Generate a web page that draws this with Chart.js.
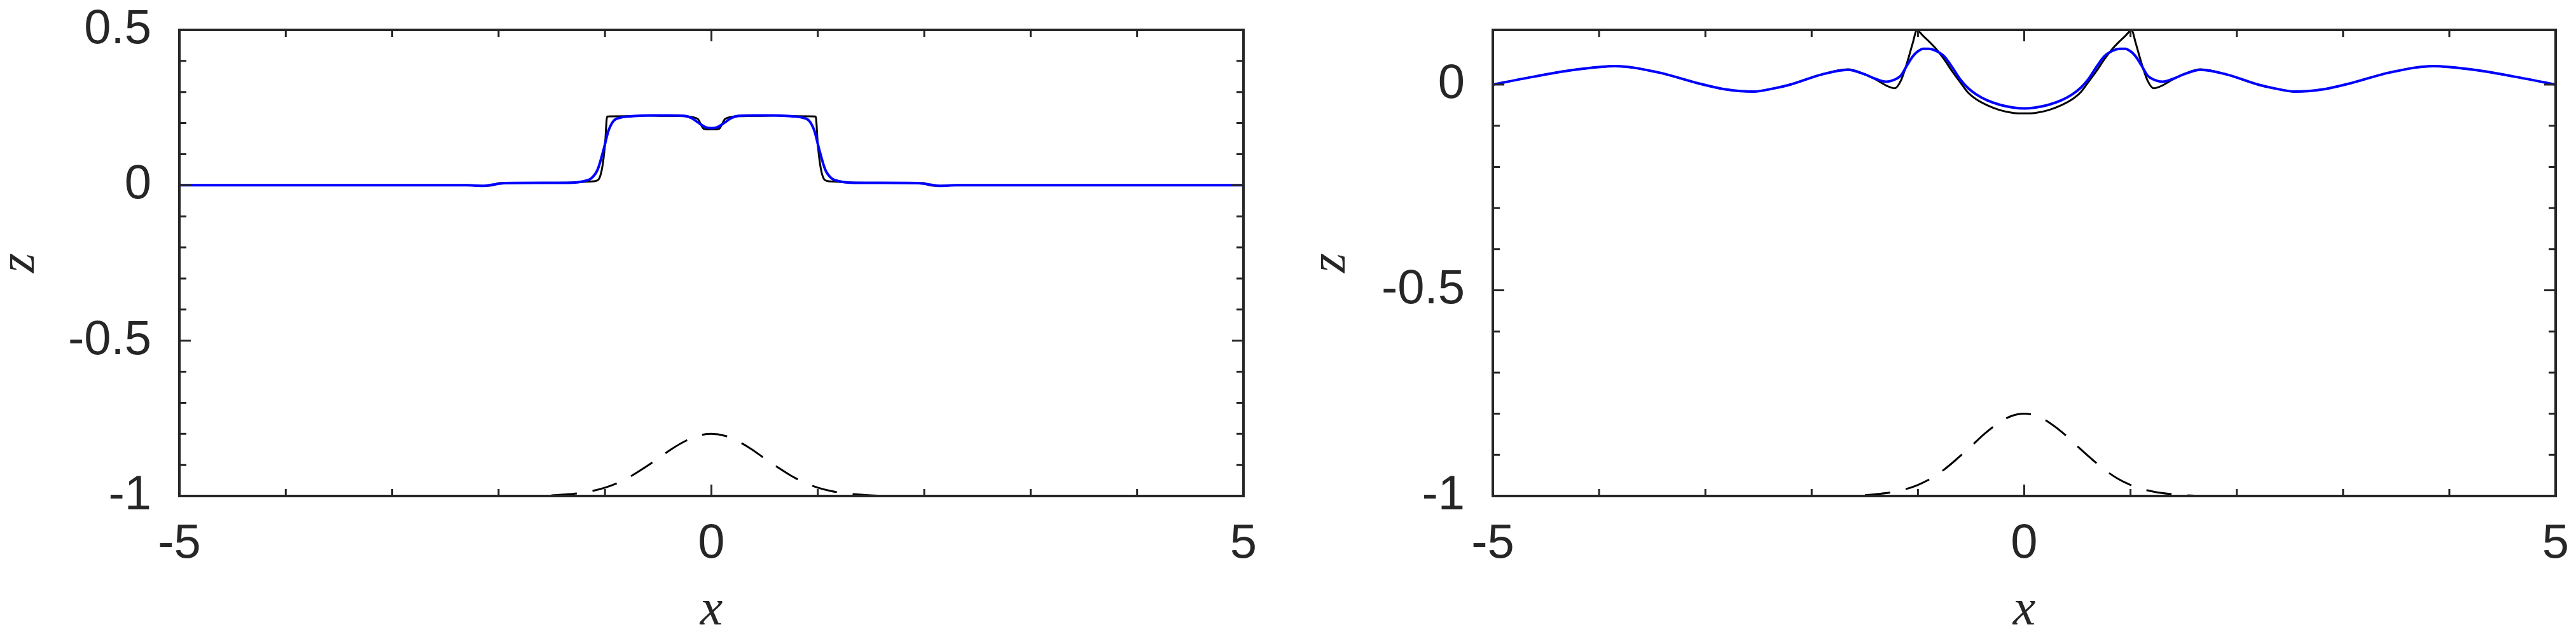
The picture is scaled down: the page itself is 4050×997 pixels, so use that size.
<!DOCTYPE html>
<html>
<head>
<meta charset="utf-8">
<script src="https://cdn.jsdelivr.net/npm/chart.js@4.4.1/dist/chart.umd.min.js"></script>
<style>
    html, body { margin: 0; padding: 0; background: #fff; }
    #wrap { position: relative; width: 4050px; height: 997px; }
    .pane { position: absolute; top: 0; width: 2025px; height: 997px; }
</style>
</head>
<body>
<div id="wrap">
    <div class="pane" style="left:0"><canvas id="chart-left" width="2025" height="997"></canvas></div>
    <div class="pane" style="left:2025px"><canvas id="chart-right" width="2025" height="997"></canvas></div>
</div>
<script>
// bottom topography (dashed), same in both panels
const bumpX = [-5, -2, -1.75, -1.5, -1.375, -1.25, -1.125, -1, -0.875, -0.75, -0.625, -0.5, -0.375, -0.25, -0.125, 0,
               0.125, 0.25, 0.375, 0.5, 0.625, 0.75, 0.875, 1, 1.125, 1.25, 1.375, 1.5, 1.75, 2, 5];
const bumpZ = [-1, -1, -1, -0.998, -0.995, -0.991, -0.984, -0.973, -0.957, -0.935, -0.908, -0.879, -0.849, -0.824, -0.806, -0.8,
               -0.806, -0.824, -0.849, -0.879, -0.908, -0.935, -0.957, -0.973, -0.984, -0.991, -0.995, -0.998, -1, -1, -1];

// left panel, reference (black)
const leftBlackX = [-5, -2.3, -2.15, -2.05, -2, -1.6, -1.3, -1.15, -1.07, -1.03, -1, -0.98, -0.8, -0.6, -0.4, -0.25, -0.13, -0.07, 0,
                    0.07, 0.13, 0.25, 0.4, 0.6, 0.8, 0.98, 1, 1.03, 1.07, 1.15, 1.3, 1.6, 2, 2.05, 2.15, 2.3, 5];
const leftBlackZ = [0, 0, -0.002, 0, 0.007, 0.008, 0.009, 0.012, 0.016, 0.05, 0.13, 0.221, 0.222, 0.224, 0.223, 0.222, 0.214, 0.181, 0.18,
                    0.181, 0.214, 0.222, 0.223, 0.224, 0.222, 0.221, 0.13, 0.05, 0.016, 0.012, 0.009, 0.008, 0.007, 0, -0.002, 0, 0];

// left panel, computed (blue)
const leftBlueX = [-5, -2.3, -2.15, -2.05, -1.95, -1.6, -1.35, -1.25, -1.2, -1.13, -1.07, -1.01, -0.97, -0.92, -0.85, -0.75, -0.57, -0.4, -0.25, -0.18, -0.13, -0.05, 0,
                   0.05, 0.13, 0.18, 0.25, 0.4, 0.57, 0.75, 0.85, 0.92, 0.97, 1.01, 1.07, 1.13, 1.2, 1.25, 1.35, 1.6, 1.95, 2.05, 2.15, 2.3, 5];
const leftBlueZ = [0, 0, -0.002, 0.002, 0.007, 0.008, 0.008, 0.01, 0.013, 0.022, 0.05, 0.119, 0.173, 0.207, 0.218, 0.222, 0.225, 0.225, 0.223, 0.215, 0.203, 0.186, 0.184,
                   0.186, 0.203, 0.215, 0.223, 0.225, 0.225, 0.222, 0.218, 0.207, 0.173, 0.119, 0.05, 0.022, 0.013, 0.01, 0.008, 0.008, 0.007, 0.002, -0.002, 0, 0];

// right panel, shared x samples
const rightX = [-5, -4.6, -4.2, -3.85, -3.45, -3.05, -2.8, -2.55, -2.35, -2.2, -1.9, -1.66, -1.5, -1.4, -1.3, -1.22, -1.16, -1.1, -1.05, -1.01,
                -0.95, -0.9, -0.83, -0.75, -0.68, -0.6, -0.53, -0.45, -0.35, -0.23, -0.1, 0,
                0.1, 0.23, 0.35, 0.45, 0.53, 0.6, 0.68, 0.75, 0.83, 0.9, 0.95,
                1.01, 1.05, 1.1, 1.16, 1.22, 1.3, 1.4, 1.5, 1.66, 1.9, 2.2, 2.35, 2.55, 2.8, 3.05, 3.45, 3.85, 4.2, 4.6, 5];
const rightBlackZ = [0, 0.02, 0.037, 0.045, 0.03, 0.002, -0.012, -0.017, -0.009, 0, 0.025, 0.037, 0.025, 0.013, -0.002, -0.009, 0.01, 0.055, 0.1, 0.132,
                     0.118, 0.106, 0.087, 0.06, 0.033, 0.005, -0.019, -0.036, -0.05, -0.062, -0.069, -0.07,
                     -0.069, -0.062, -0.05, -0.036, -0.019, 0.005, 0.033, 0.06, 0.087, 0.106, 0.118,
                     0.132, 0.1, 0.055, 0.01, -0.009, -0.002, 0.013, 0.025, 0.037, 0.025, 0, -0.009, -0.017, -0.012, 0.002, 0.03, 0.045, 0.037, 0.02, 0];
const rightBlueZ = [0, 0.02, 0.037, 0.045, 0.03, 0.002, -0.012, -0.017, -0.009, 0, 0.025, 0.036, 0.025, 0.014, 0.007, 0.012, 0.022, 0.048, 0.068, 0.079,
                    0.087, 0.087, 0.082, 0.068, 0.043, 0.012, -0.008, -0.024, -0.038, -0.049, -0.056, -0.058,
                    -0.056, -0.049, -0.038, -0.024, -0.008, 0.012, 0.043, 0.068, 0.082, 0.087, 0.087,
                    0.079, 0.068, 0.048, 0.022, 0.012, 0.007, 0.014, 0.025, 0.036, 0.025, 0, -0.009, -0.017, -0.012, 0.002, 0.03, 0.045, 0.037, 0.02, 0];

const AXIS = '#262626';
const TICK_FONT = { family: 'Liberation Sans', size: 76 };
const TITLE_FONT = { family: 'Liberation Serif', size: 80, style: 'italic', lineHeight: 0.75 };

const isMultiple = (v, step) => Math.abs(v / step - Math.round(v / step)) < 1e-6;
const fmt = v => String(Math.round(v * 10) / 10);
const pts = (xs, ys) => xs.map((x, i) => ({ x, y: ys[i] }));

// matlab-like box with inward ticks on all four sides
const boxTicks = {
    id: 'boxTicks',
    afterDatasetsDraw(chart, args, opts) {
        const { ctx, chartArea: a, scales: { x, y } } = chart;
        ctx.save();
        ctx.strokeStyle = AXIS;
        ctx.lineWidth = 3;
        ctx.beginPath();
        x.ticks.forEach(t => {
            const p = x.getPixelForValue(t.value);
            const len = isMultiple(t.value, opts.xMajor) ? 18 : 11;
            ctx.moveTo(p, a.bottom); ctx.lineTo(p, a.bottom - len);
            ctx.moveTo(p, a.top); ctx.lineTo(p, a.top + len);
        });
        y.ticks.forEach(t => {
            const p = y.getPixelForValue(t.value);
            if (p < a.top + 2) return;
            const len = isMultiple(t.value, opts.yMajor) ? 18 : 11;
            ctx.moveTo(a.left, p); ctx.lineTo(a.left + len, p);
            ctx.moveTo(a.right, p); ctx.lineTo(a.right - len, p);
        });
        ctx.stroke();
        ctx.lineWidth = 4;
        ctx.strokeRect(a.left, a.top, a.right - a.left, a.bottom - a.top);
        ctx.restore();
    }
};

// fixed axis boxes, no extra room for overhanging labels
function pinScale(size) {
    return s => {
        if (s.isHorizontal()) s.height = size; else s.width = size;
        s.paddingTop = s.paddingBottom = s.paddingLeft = s.paddingRight = 0;
    };
}

function makePanel(id, blue, black, yMax, yWidth, padRight, titlePad) {
    const ctx = document.getElementById(id).getContext('2d');
    return new Chart(ctx, {
        type: 'line',
        data: {
            datasets: [
                { data: blue, borderColor: '#0000ff', borderWidth: 4 },
                { data: black, borderColor: '#000000', borderWidth: 3 },
                { data: pts(bumpX, bumpZ), borderColor: '#000000', borderWidth: 3, borderDash: [40, 25] }
            ].map(d => Object.assign(d, { pointRadius: 0, fill: false, cubicInterpolationMode: 'monotone' }))
        },
        options: {
            responsive: false,
            animation: false,
            events: [],
            layout: { padding: { left: 0, right: padRight, top: 47, bottom: 0 } },
            plugins: { legend: { display: false }, tooltip: { enabled: false }, boxTicks: { xMajor: 5, yMajor: 0.5 } },
            scales: {
                x: {
                    type: 'linear', min: -5, max: 5,
                    grid: { display: false, drawTicks: false },
                    border: { display: false },
                    ticks: {
                        stepSize: 1, autoSkip: false, maxRotation: 0, padding: 30,
                        color: AXIS, font: TICK_FONT,
                        callback: v => isMultiple(v, 5) ? fmt(v) : ''
                    },
                    title: { display: true, text: 'x', color: AXIS, font: TITLE_FONT, padding: { top: 0, bottom: 6 } },
                    afterFit: pinScale(217)
                },
                y: {
                    type: 'linear', min: -1, max: yMax,
                    grid: { display: false, drawTicks: false },
                    border: { display: false },
                    ticks: {
                        stepSize: 0.1, autoSkip: false, padding: 44,
                        color: AXIS, font: TICK_FONT,
                        callback: v => isMultiple(v, 0.5) ? fmt(v) : ''
                    },
                    title: { display: true, text: 'z', color: AXIS, font: TITLE_FONT, padding: { top: titlePad, bottom: 0 } },
                    afterFit: pinScale(yWidth)
                }
            }
        },
        plugins: [boxTicks]
    });
}

makePanel('chart-left', pts(leftBlueX, leftBlueZ), pts(leftBlackX, leftBlackZ), 0.5, 282, 70, 2);
makePanel('chart-right', pts(rightX, rightBlueZ), pts(rightX, rightBlackZ), 0.133, 322, 32, 38);
</script>
</body>
</html>
